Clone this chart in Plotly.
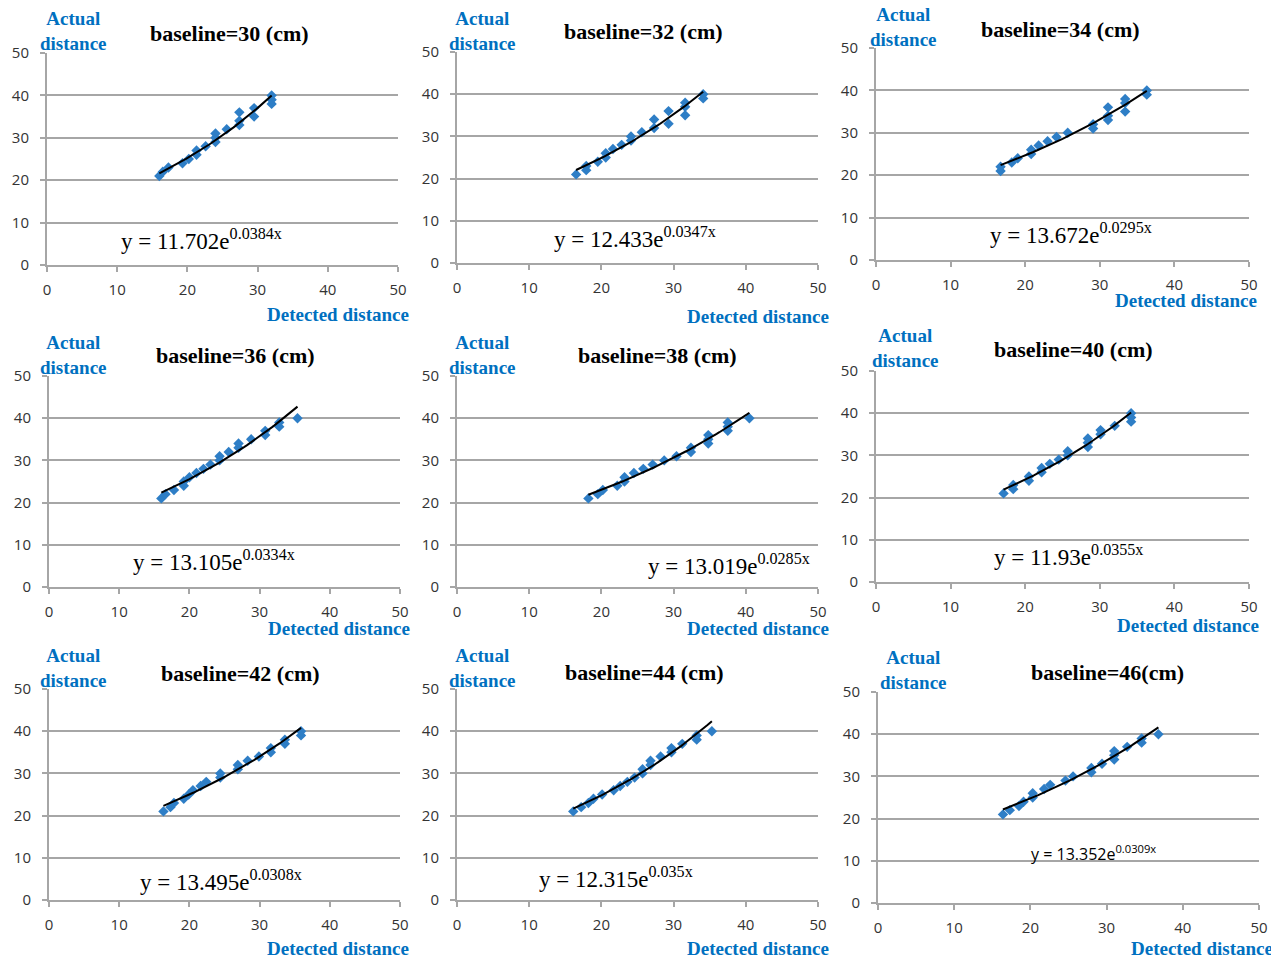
import numpy as np
import plotly.graph_objects as go

W, H = 1271, 959

# ---------------- data ----------------
BASELINES = ["baseline=30 (cm)", "baseline=32 (cm)", "baseline=34 (cm)",
             "baseline=36 (cm)", "baseline=38 (cm)", "baseline=40 (cm)",
             "baseline=42 (cm)", "baseline=44 (cm)", "baseline=46(cm)"]

ACTUAL = [21, 22, 23, 24, 25, 26, 27, 28, 29, 30,
          31, 32, 33, 34, 35, 36, 37, 38, 39, 40]

DET_30 = [16.0, 16.5, 17.3, 19.3, 20.2, 21.3, 21.3, 22.6, 24.0, 24.0,
          24.0, 25.6, 27.4, 27.4, 29.5, 27.4, 29.5, 32.0, 32.0, 32.0]
DET_32 = [16.5, 17.9, 17.9, 19.5, 20.6, 20.6, 21.6, 22.8, 24.1, 24.1,
          25.6, 27.3, 29.3, 27.3, 31.6, 29.3, 31.6, 31.6, 34.1, 34.1]
DET_34 = [16.7, 16.7, 18.2, 19.0, 20.8, 20.8, 21.8, 23.0, 24.2, 25.7,
          29.1, 29.1, 31.1, 31.1, 33.4, 31.1, 33.4, 33.4, 36.3, 36.3]
DET_36 = [16.0, 16.6, 17.8, 19.2, 19.2, 20.0, 21.0, 22.0, 23.0, 24.3,
          24.3, 25.6, 27.0, 27.0, 28.8, 30.8, 30.8, 32.8, 32.8, 35.4]
DET_38 = [18.2, 19.5, 20.2, 22.2, 23.2, 23.2, 24.5, 25.8, 27.1, 28.7,
          30.4, 32.4, 32.4, 34.8, 34.8, 34.8, 37.5, 37.5, 37.5, 40.5]
DET_40 = [17.1, 18.4, 18.4, 20.5, 20.5, 22.2, 22.2, 23.3, 24.5, 25.7,
          25.7, 28.4, 28.4, 28.4, 30.1, 30.1, 32.0, 34.2, 34.2, 34.2]
DET_42 = [16.3, 17.3, 17.8, 19.2, 19.9, 20.5, 21.6, 22.4, 24.4, 24.4,
          26.9, 26.9, 28.3, 29.9, 31.6, 31.6, 33.6, 33.6, 35.9, 35.9]
DET_44 = [16.1, 17.2, 18.2, 18.9, 20.1, 21.7, 22.6, 23.6, 24.6, 25.7,
          25.7, 26.8, 26.8, 28.2, 29.7, 29.7, 31.2, 33.2, 33.2, 35.3]
DET_46 = [16.4, 17.3, 18.5, 19.1, 20.3, 20.3, 21.8, 22.6, 24.6, 25.6,
          28.0, 28.0, 29.4, 31.0, 31.0, 31.0, 32.7, 34.6, 34.6, 36.8]

DETECTED = [DET_30, DET_32, DET_34, DET_36, DET_38, DET_40, DET_42, DET_44, DET_46]

EQ_A = [11.702, 12.433, 13.672, 13.105, 13.019, 11.93, 13.495, 12.315, 13.352]
EQ_B = [0.0384, 0.0347, 0.0295, 0.0334, 0.0285, 0.0355, 0.0308, 0.035, 0.0309]

AXIS_TICKS = [0, 10, 20, 30, 40, 50]

# ---------------- layout geometry (pixels) ----------------
# plot area: x0, x1, ytop, ybottom
PLOT_BOX = [
    (47, 398, 53, 265), (457, 818, 52, 263), (876, 1249, 48, 260),
    (49, 400, 376, 587), (457, 818, 376, 587), (876, 1249, 371, 582),
    (49, 400, 689, 900), (457, 818, 689, 900), (878, 1259, 692, 903),
]
ACTUAL_POS = [(73, 20), (482, 20), (903, 16), (73, 344), (482, 344), (905, 337),
              (73, 657), (482, 657), (913, 659)]
TITLE_POS = [(229, 34), (643, 32), (1060, 30), (235, 355), (657, 355), (1073, 349),
             (240, 673), (644, 672), (1107, 672)]
DET_POS = [(411, 315), (831, 317), (1259, 301), (412, 628), (831, 628), (1261, 625),
           (411, 948), (831, 948), (1275, 948)]
EQ_POS = [(119, 239), (552, 237), (988, 233), (131, 560), (646, 564), (992, 555),
          (138, 880), (537, 877), (1029, 853)]

BLUE = "#0070C0"
MARK = "#2E7EC6"
GRID = "#A6A6A6"


def fx(p):
    return p / W


def fy(p):
    return 1 - p / H


fig = go.Figure()
layout = dict(
    template="none",
    width=W, height=H, margin=dict(l=0, r=0, t=0, b=0, pad=0, autoexpand=False),
    paper_bgcolor="white", plot_bgcolor="white", showlegend=False,
    autosize=False,
)
annotations = []

for i in range(9):
    n = "" if i == 0 else str(i + 1)
    xa, ya = "x" + n, "y" + n
    x0, x1, yt, yb = PLOT_BOX[i]
    axis_common = dict(
        range=[0, 50], tickvals=AXIS_TICKS, ticks="outside", ticklen=5,
        tickwidth=1.5, tickcolor=GRID, showline=True, linecolor=GRID, linewidth=2,
        tickfont=dict(family="Open Sans", size=15, color="#333333"),
        zeroline=False, fixedrange=True, automargin=False,
    )
    layout["xaxis" + n] = dict(
        axis_common, domain=[fx(x0), fx(x1)], anchor=ya, showgrid=False,
        ticklabelstandoff=5,
    )
    layout["yaxis" + n] = dict(
        axis_common, domain=[fy(yb), fy(yt)], anchor=xa, showgrid=True,
        gridcolor=GRID, gridwidth=2, ticklabelstandoff=8,
    )

    xs = DETECTED[i]
    fig.add_trace(go.Scatter(
        x=xs, y=ACTUAL, mode="markers", xaxis=xa, yaxis=ya,
        marker=dict(symbol="diamond", size=8, color=MARK),
        cliponaxis=False,
    ))
    xt = np.linspace(min(xs), max(xs), 60)
    fig.add_trace(go.Scatter(
        x=xt, y=EQ_A[i] * np.exp(EQ_B[i] * xt), mode="lines", xaxis=xa, yaxis=ya,
        line=dict(color="black", width=2),
    ))

    ax, ay = ACTUAL_POS[i]
    annotations.append(dict(
        x=fx(ax), y=fy(ay), xref="paper", yref="paper", showarrow=False,
        text="<b>Actual</b><br><b>distance</b>", align="center",
        xanchor="center", yanchor="middle",
        font=dict(family="Liberation Serif", size=19, color=BLUE),
        yshift=-11,
    ))
    tx, ty = TITLE_POS[i]
    annotations.append(dict(
        x=fx(tx), y=fy(ty), xref="paper", yref="paper", showarrow=False,
        text="<b>" + BASELINES[i] + "</b>", xanchor="center", yanchor="middle",
        font=dict(family="Liberation Serif", size=22, color="black"),
    ))
    dx, dy = DET_POS[i]
    annotations.append(dict(
        x=fx(dx), y=fy(dy), xref="paper", yref="paper", showarrow=False,
        text="<b>Detected distance</b>", xanchor="right", yanchor="middle",
        font=dict(family="Liberation Serif", size=19, color=BLUE),
    ))
    ex, ey = EQ_POS[i]
    eq_text = "y = " + str(EQ_A[i]) + "e<sup>" + str(EQ_B[i]) + "x</sup>"
    if i == 8:
        eq_font = dict(family="Open Sans", size=16, color="black")
    else:
        eq_font = dict(family="Liberation Serif", size=23, color="black")
    annotations.append(dict(
        x=fx(ex), y=fy(ey), xref="paper", yref="paper", showarrow=False,
        text=eq_text, xanchor="left", yanchor="middle", font=eq_font,
    ))

layout["annotations"] = annotations
fig.update_layout(**layout)
fig.write_html(
    "out.html",
    config={"responsive": False, "displayModeBar": False},
    post_script="document.body.style.margin='0';document.body.style.overflow='hidden';",
)
